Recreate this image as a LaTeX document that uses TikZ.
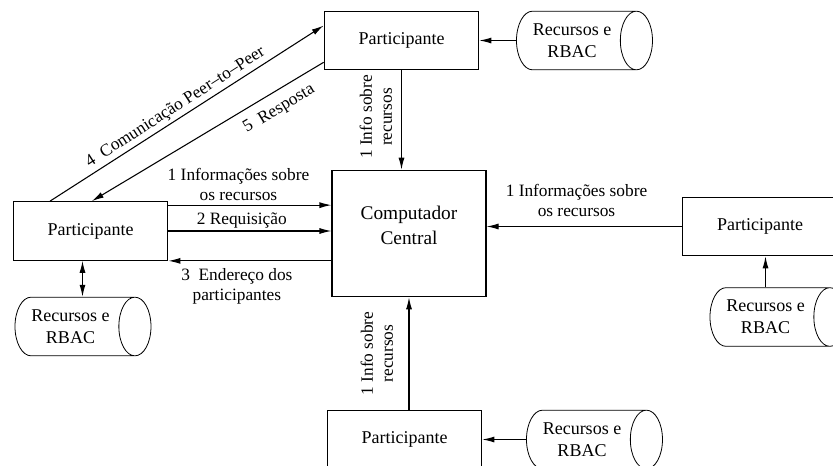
\documentclass[tikz,border=0pt]{standalone}
\usepackage{fontspec}
\setmainfont{Liberation Serif}
\usetikzlibrary{shapes.geometric,arrows.meta,calc}
\tikzset{
	participante/.style={
		draw,
		shape = rectangle,
		minimum width = 116pt,
		minimum height = 44pt,
		font = \fontsize{13.5}{15}\selectfont
	},
	central/.style={
		draw,
		shape = rectangle,
		align = center,
		text depth = 12pt,
		minimum width = 115.5pt,
		minimum height = 95pt,
		font = \fontsize{14.5}{18.75}\selectfont
	},
	banco/.style={
		draw,
		shape = cylinder,
		aspect = 0.75,
		line width = 0.6pt,
		minimum width = 44pt,
		minimum height = 102pt,
		align = center,
		font = \fontsize{13.5}{16.5}\selectfont
	},
	rotulo/.style={
		align = center,
		inner sep = 1pt,
		font = \fontsize{13}{15}\selectfont
	},
}
\tikzset{>={Latex[length=9pt,width=4.5pt]}}

\begin{document}
\begin{tikzpicture}[x=0.75pt, y=-0.75pt, line width=0.8pt]
    \clip (0,0) rectangle (833,465);
    \node[central] (cc) at (409,233.5) {Computador\\Central};
    \node[participante] (tp) at (401.5,40.5) {Participante};
    \node[participante] (lp) at (90.5,231) {Participante};
    \node[participante] (rp) at (760,226.5) {Participante};
    \node[participante] (bp) at (404.5,439.5) {Participante};
    \node[banco] (tb) at (572,40.5) {Recursos e\\RBAC};
    \node[banco] (lb) at (70.5,326.5) {Recursos e\\RBAC};
    \node[banco] (rb) at (765.5,317) {Recursos e\\RBAC};
    \node[banco] (bb) at (582,439.5) {Recursos e\\RBAC};
    % bancos -> participantes
    \draw[->] (tb.west) -- (tb.west -| tp.east);
    \draw[->] (bb.west) -- (bb.west -| bp.east);
    \draw[->] (rb.north) -- (rb.north |- rp.south);
    \draw[<->] ([xshift=-6pt]lp.south) -- ([xshift=-6pt]lp.south |- lb.north);
    % participantes <-> computador central
    \draw[->] (tp.south) -- node[rotulo, rotate=90, anchor=south, outer sep=6pt, pos=0.47] {1 Info sobre\\recursos} (tp.south |- cc.north);
    \draw[->] (bp.north -| cc.south) -- node[rotulo, rotate=90, anchor=south, outer sep=11pt] {1 Info sobre\\recursos} (cc.south);
    \draw[->] ([yshift=-3pt]lp.north east) -- node[rotulo, above=2pt, pos=0.43] {1 Informações sobre\\os recursos} ([yshift=-3pt]lp.north east -| cc.west);
    \draw[->] (lp.east) -- node[rotulo, above=1pt, pos=0.45] {2 Requisição} (lp.east -| cc.west);
    \draw[->] (lp.south east -| cc.west) -- node[rotulo, below=4pt, pos=0.58] {3\ \ Endereço dos\\participantes} (lp.south east);
    \draw[->] (rp.west) -- node[rotulo, above=6pt, pos=0.54] {1 Informações sobre\\os recursos} (rp.west -| cc.east);
    % peer-to-peer
    \draw[->] ($(lp.north west)!0.24!(lp.north east)$) -- node[rotulo, sloped, above=1pt, pos=0.48] {4\ \ Comunicação Peer–to–Peer} ($(tp.west)!0.5!(tp.north west)$);
    \draw[->] ($(tp.west)!0.73!(tp.south west)$) -- node[rotulo, sloped, below=6pt, pos=0.23] {5\ \ Resposta} ([xshift=1pt]lp.north);
\end{tikzpicture}
\end{document}
